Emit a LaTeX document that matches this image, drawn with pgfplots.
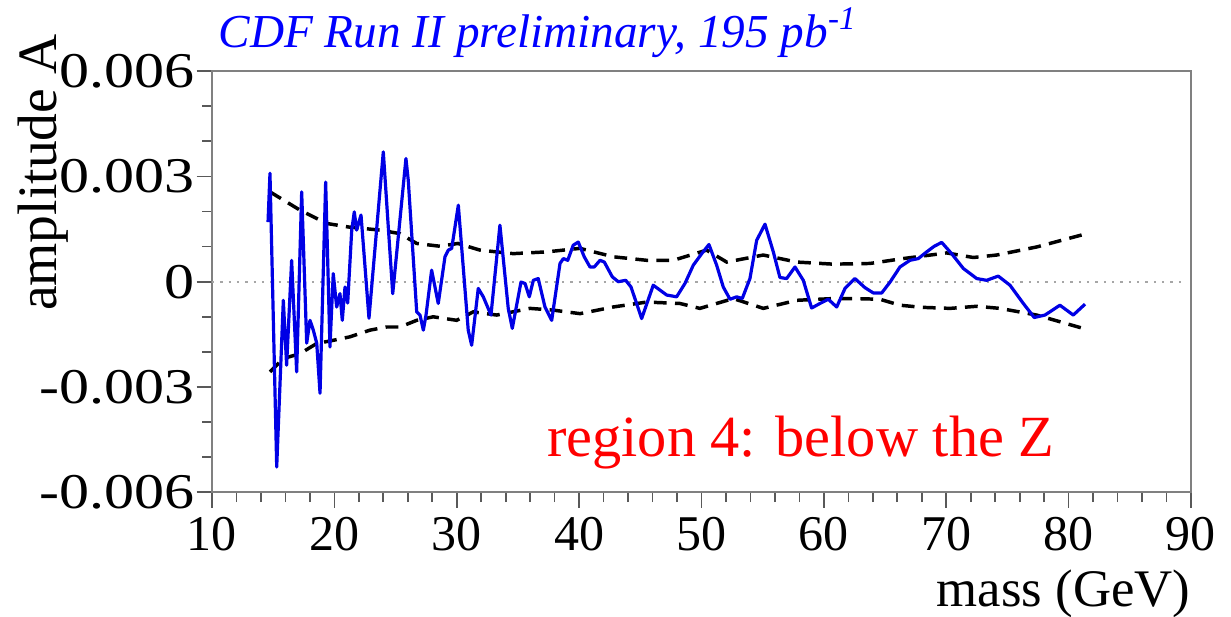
\documentclass[border=0pt]{standalone}
\usepackage{fontspec}
\setmainfont{Liberation Serif}
\usepackage{pgfplots}
\pgfplotsset{compat=1.18}
\begin{document}
\begin{tikzpicture}
% fixed page frame around the axis box
\useasboundingbox (-76.3pt,-44.6pt) rectangle (366.8pt,177.2pt);
\begin{axis}[
  at={(0pt,0pt)}, anchor=south west,
  scale only axis, width=352.4pt, height=151.6pt,
  xmin=10, xmax=90, ymin=-0.006, ymax=0.006,
  xtick={10,20,...,90},
  ytick={-0.006,-0.003,0,0.003,0.006},
  yticklabels={-0.006,-0.003,0,0.003,0.006},
  minor x tick num=4, minor y tick num=2,
  tick align=outside, tick pos=left,
  major tick length=5.5pt, minor tick length=3.5pt,
  every tick/.style={gray!70!black, line width=0.6pt},
  axis line style={gray, line width=0.8pt},
  xticklabel style={font=\fontsize{18}{20}\selectfont},
  yticklabel style={font=\fontsize{18}{20}\selectfont, xscale=1.2, xshift=3pt},
  /pgf/number format/assume math mode=true,
  scaled y ticks=false,
  clip=false,
]
% zero reference
\addplot[gray!70, line width=0.8pt, dash pattern=on 0.8pt off 2.2pt] coordinates {(10,0) (89.5,0)};
% expected band
\addplot[black, line width=1.25pt, dash pattern=on 4.6pt off 3pt] coordinates {
(14.74,0.00256) (17.19,0.00204) (19.37,0.00166) (21.14,0.00156) (23.73,0.00147)
(25.36,0.00137) (26.73,0.00109) (28.63,0.00101) (30.10,0.00109) (31.90,0.00090)
(34.62,0.00080) (37.35,0.00085) (40.07,0.00095) (42.79,0.00071) (45.52,0.00061)
(47.70,0.00061) (50.42,0.00090) (52.06,0.00056) (55.05,0.00076) (57.78,0.00056)
(60.77,0.00050) (63.77,0.00052) (66.49,0.00066) (70.04,0.00082) (72.21,0.00069)
(74.12,0.00076) (77.39,0.00099) (81.48,0.00137)};
\addplot[black, line width=1.25pt, dash pattern=on 4.6pt off 3pt] coordinates {
(14.74,-0.00257) (15.83,-0.00219) (17.19,-0.00205) (18.56,-0.00176) (19.91,-0.00167)
(21.28,-0.00157) (22.91,-0.00138) (24.28,-0.00129) (25.36,-0.00129) (26.73,-0.00110)
(28.08,-0.00100) (30.00,-0.00110) (31.35,-0.00086) (33.27,-0.00095) (35.99,-0.00076)
(37.89,-0.00081) (40.07,-0.00091) (42.79,-0.00072) (45.52,-0.00058) (48.24,-0.00062)
(49.87,-0.00076) (52.60,-0.00048) (55.05,-0.00076) (57.78,-0.00053) (60.77,-0.00048)
(62.40,-0.00048) (64.58,-0.00050) (66.22,-0.00067) (68.02,-0.00073) (70.31,-0.00076)
(72.49,-0.00070) (74.39,-0.00076) (77.39,-0.00095) (81.48,-0.00136)};
% fitted amplitude
\addplot[blue!90!black, line width=1.15pt, line join=round] coordinates {
(14.58,0.00170) (14.74,0.00309) (15.29,-0.00528) (15.83,-0.00053) (16.10,-0.00238)
(16.51,0.00061) (16.92,-0.00257) (17.33,0.00256) (17.74,-0.00175) (18.01,-0.00110)
(18.28,-0.00138) (18.56,-0.00175) (18.83,-0.00318) (19.29,0.00284) (19.64,-0.00186)
(19.91,0.00023) (20.19,-0.00072) (20.46,-0.00034) (20.65,-0.00110) (20.87,-0.00015)
(21.09,-0.00061) (21.42,0.00147) (21.63,0.00199) (21.82,0.00147) (22.18,0.00190)
(22.83,-0.00104) (24.00,0.00370) (24.77,-0.00034) (25.85,0.00351) (26.04,0.00289)
(26.73,-0.00086) (27.00,-0.00095) (27.27,-0.00138) (27.49,-0.00095) (27.95,0.00033)
(28.49,-0.00062) (29.04,0.00071) (29.31,0.00090) (29.59,0.00095) (30.13,0.00218)
(30.94,-0.00138) (31.22,-0.00181) (31.76,-0.00019) (32.17,-0.00043) (32.80,-0.00095)
(33.53,0.00161) (34.21,-0.00076) (34.54,-0.00133) (35.25,-0.00001) (35.58,-0.00005)
(35.93,-0.00043) (36.26,0.00004) (36.66,0.00009) (37.21,-0.00072) (37.76,-0.00110)
(38.44,0.00052) (38.71,0.00066) (39.07,0.00061) (39.52,0.00104) (39.93,0.00113)
(40.42,0.00071) (40.89,0.00042) (41.24,0.00042) (41.71,0.00061) (42.06,0.00056)
(42.71,0.00014) (43.20,0.00000) (43.81,0.00004) (44.24,-0.00015) (44.70,-0.00062)
(45.11,-0.00105) (46.06,-0.00010) (46.61,-0.00024) (47.16,-0.00038) (47.97,-0.00043)
(48.65,-0.00005) (49.33,0.00047) (50.02,0.00080) (50.61,0.00106) (51.24,0.00047)
(51.78,-0.00015) (52.33,-0.00050) (52.88,-0.00043) (53.33,-0.00048) (53.96,0.00009)
(54.51,0.00118) (55.19,0.00164) (55.87,0.00085) (56.41,0.00012) (56.96,0.00009)
(57.64,0.00042) (58.32,0.00004) (59.00,-0.00075) (59.68,-0.00062) (60.36,-0.00050)
(61.05,-0.00072) (61.73,-0.00019) (62.54,0.00009) (63.36,-0.00017) (64.04,-0.00032)
(64.73,-0.00032) (65.41,-0.00001) (66.22,0.00042) (67.04,0.00061) (67.72,0.00066)
(68.40,0.00085) (69.02,0.00101) (69.63,0.00112) (70.44,0.00080) (71.39,0.00038)
(72.49,0.00009) (73.30,0.00004) (74.25,0.00016) (75.21,-0.00010) (76.30,-0.00062)
(77.19,-0.00102) (78.07,-0.00095) (79.29,-0.00067) (80.38,-0.00095) (81.34,-0.00064)};
% titles and labels
\node[anchor=base west, text=blue, inner sep=0pt, xshift=2.2pt, yshift=8.6pt,
  font=\itshape\fontsize{17}{19}\selectfont] at (rel axis cs:0,1)
  {CDF Run II preliminary, 195 pb\textsuperscript{-1}};
\node[anchor=base west, text=red, inner sep=0pt,
  font=\fontsize{21}{23}\selectfont] at (axis cs:37.35,-0.00499)
  {region 4: below the Z};
\node[anchor=base east, inner sep=0pt, yshift=-41pt,
  font=\fontsize{19}{21}\selectfont] at (rel axis cs:1,0) {mass (GeV)};
\end{axis}
\node[anchor=base, rotate=90, inner sep=0pt,
  font=\fontsize{20}{22}\selectfont] at (-56pt,115pt) {amplitude A};
\end{tikzpicture}
\end{document}
